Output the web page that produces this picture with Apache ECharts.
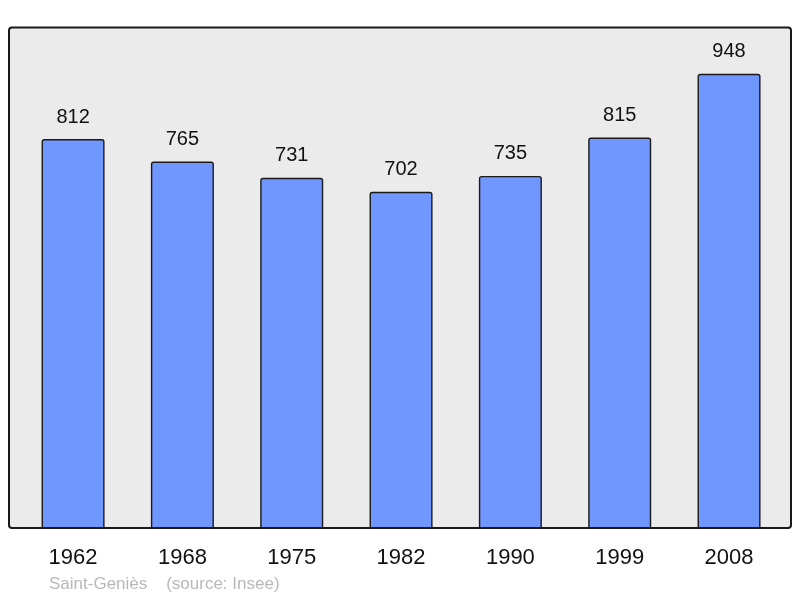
<!DOCTYPE html>
<html><head><meta charset="utf-8">
<script src="https://cdn.jsdelivr.net/npm/echarts@6/dist/echarts.min.js"></script>
<style>html,body{margin:0;padding:0;background:#fff}#c{width:800px;height:598px}</style>
</head><body><div id="c"></div>
<script>
const categories = ['1962','1968','1975','1982','1990','1999','2008'];
const population = [812, 765, 731, 702, 735, 815, 948];
const sourceText = 'Saint-Geniès    (source: Insee)';

const chart = echarts.init(document.getElementById('c'), null, {renderer:'canvas'});
const FONT = '"Liberation Sans", Arial, sans-serif';
chart.setOption({
  animation:false,
  backgroundColor:'#ffffff',
  graphic:[
    {type:'rect', z:-10, shape:{x:9,y:27.5,width:782,height:500.5,r:3}, style:{fill:'#ebebeb',stroke:'#1a1a1a',lineWidth:2}},
    {type:'text', left:49, top:576, style:{text:sourceText, fill:'#b8b8b8', font:'17px '+FONT}}
  ],
  grid:{left:18.4, width:765.3, top:28.2, bottom:69.5, containLabel:false},
  xAxis:{type:'category', data:categories, axisLine:{show:false}, axisTick:{show:false},
    axisLabel:{color:'#111', fontSize:22, fontFamily:FONT, margin:18}},
  yAxis:{type:'value', min:0, max:1043, show:false, splitLine:{show:false}},
  series:[{type:'bar', data:population, barWidth:63,
    itemStyle:{color:'#7096ff', borderColor:'#1a1a1a', borderWidth:1.4, borderRadius:[2,2,0,0]},
    label:{show:true, position:'top', distance:12, color:'#111', fontSize:20, fontFamily:FONT}
  }]
});
</script></body></html>
